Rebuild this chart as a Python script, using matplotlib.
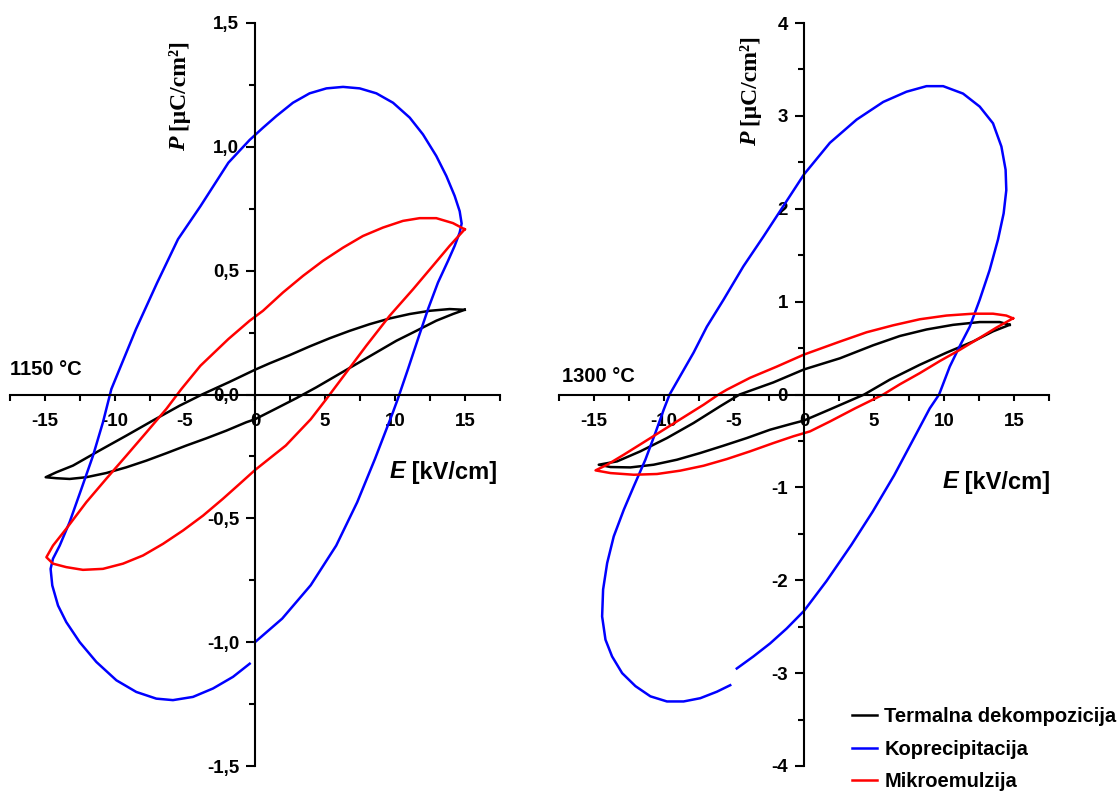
import matplotlib
matplotlib.use('Agg')
import matplotlib.pyplot as plt
from matplotlib.ticker import MultipleLocator, FuncFormatter

plt.rcParams['font.family'] = ['Liberation Sans', 'DejaVu Sans']
plt.rcParams['font.weight'] = 'bold'

# ---- 1150 C ----
E_term_1150 = [14.98, 13.9, 12.48, 11.05, 9.62, 8.19, 6.76, 5.33, 3.9, 2.48, 1.05, 0.0, -1.85, -3.71, -5.38, -7.29,
               -9.19, -11.1, -13.0, -14.19, -14.95,
               -14.19, -13.24, -12.05, -10.62, -9.19, -7.76, -6.33, -4.9, -3.48, -2.05, -0.62, 0.0, 1.5, 2.95,
               4.38, 5.81, 7.24, 8.67, 10.1, 11.52, 12.95, 14.14, 14.98]
P_term_1150 = [0.342, 0.345, 0.338, 0.325, 0.307, 0.284, 0.257, 0.227, 0.194, 0.159, 0.126, 0.10, 0.05, 0.002, -0.045, -0.105,
               -0.166, -0.226, -0.287, -0.314, -0.334,
               -0.338, -0.341, -0.334, -0.317, -0.294, -0.267, -0.237, -0.206, -0.177, -0.146, -0.112, -0.10, -0.057, -0.015,
               0.029, 0.076, 0.123, 0.17, 0.217, 0.257, 0.298, 0.325, 0.342]

E_kopr_1150 = [0.0, 1.94, 3.98, 5.8, 7.3, 8.57, 9.85, 10.2, 10.93, 11.64, 12.36, 13.07, 13.79, 14.26, 14.62, 14.76,
               14.62, 14.26, 13.67, 12.95, 12.0, 11.05, 9.86, 8.67, 7.48, 6.29, 5.1, 3.9, 2.71, 1.52, 0.57, -0.38,
               -1.9, -3.9, -5.5, -7.0, -8.5, -10.26, -10.86, -11.57, -12.4, -13.24, -13.95, -14.43, -14.6, -14.48,
               -14.07, -13.48, -12.52, -11.33, -9.9, -8.48, -7.05, -5.86, -4.43, -3.0, -1.57, -0.38]
P_kopr_1150 = [-1.0, -0.905, -0.77, -0.61, -0.435, -0.26, -0.072, -0.018, 0.103, 0.224, 0.345, 0.452, 0.54, 0.60, 0.654, 0.69,
               0.74, 0.802, 0.882, 0.963, 1.05, 1.118, 1.178, 1.216, 1.236, 1.242, 1.236, 1.216, 1.178, 1.124, 1.077, 1.028,
               0.936, 0.76, 0.627, 0.45, 0.264, 0.022, -0.112, -0.247, -0.381, -0.515, -0.61, -0.663, -0.704, -0.771,
               -0.852, -0.919, -1.0, -1.08, -1.154, -1.201, -1.228, -1.234, -1.221, -1.187, -1.14, -1.087]

E_mikro_1150 = [14.98, 14.14, 12.95, 11.76, 10.57, 9.14, 7.71, 6.29, 4.86, 3.43, 2.0, 0.57, -0.38, -1.9, -3.9, -5.26,
                -6.33, -7.76, -9.19, -10.62, -12.05, -13.48, -14.43, -14.9,
                -14.43, -13.48, -12.29, -10.86, -9.43, -8.0, -6.57, -5.14, -3.71, -2.29, -1.1, 0.0, 2.2, 3.98,
                5.1, 6.52, 7.95, 9.62, 11.29, 12.71, 13.9, 14.98]
P_mikro_1150 = [0.667, 0.692, 0.712, 0.712, 0.701, 0.674, 0.64, 0.593, 0.54, 0.479, 0.412, 0.338, 0.298, 0.224, 0.116, 0.022,
                -0.058, -0.153, -0.247, -0.34, -0.435, -0.542, -0.61, -0.657,
                -0.683, -0.697, -0.708, -0.704, -0.683, -0.65, -0.603, -0.549, -0.489, -0.421, -0.361, -0.305, -0.206, -0.1,
                -0.018, 0.089, 0.197, 0.318, 0.425, 0.52, 0.60, 0.667]

# ---- 1300 C ----
E_term_1300 = [14.69, 13.98, 12.55, 10.65, 8.75, 6.85, 4.94, 2.57, 0.0, -2.19, -4.6, -5.99, -7.89, -9.79, -11.69, -13.35, -14.66,
               -13.82, -12.4, -10.74, -9.07, -7.41, -5.75, -4.09, -2.42, -1.0, 0.0, 1.86, 4.3, 6.13, 8.27, 10.17, 12.07, 13.5, 14.69]
P_term_1300 = [0.75, 0.78, 0.78, 0.75, 0.70, 0.63, 0.53, 0.39, 0.27, 0.13, 0.0, -0.127, -0.307, -0.469, -0.612, -0.72, -0.756,
               -0.781, -0.785, -0.756, -0.702, -0.63, -0.551, -0.469, -0.379, -0.32, -0.28, -0.16, 0.0, 0.16, 0.32, 0.45, 0.57, 0.68, 0.75]

E_kopr_1300 = [-4.8, -3.61, -2.42, -1.24, 0.0, 1.6, 3.38, 4.91, 6.44, 7.96, 8.98, 9.65, 10.41, 11.12, 11.84, 12.55, 13.26,
               13.86, 14.26, 14.45, 14.40, 14.1, 13.5, 12.55, 11.36, 9.94, 8.75, 7.32, 5.66, 3.76, 1.85, 0.0, -1.47,
               -2.90, -4.33, -5.75, -6.94, -7.89, -8.84, -9.6, -10.02, -10.62, -11.33, -12.16, -12.87, -13.59, -14.06,
               -14.35, -14.42, -14.18, -13.71, -12.99, -12.04, -10.97, -9.79, -8.6, -7.41, -6.22, -5.27]
P_kopr_1300 = [-2.95, -2.82, -2.68, -2.52, -2.33, -2.01, -1.62, -1.26, -0.87, -0.44, -0.15, 0.0, 0.30, 0.52, 0.73, 1.02, 1.34,
               1.67, 1.95, 2.20, 2.42, 2.67, 2.92, 3.10, 3.24, 3.32, 3.32, 3.26, 3.15, 2.96, 2.71, 2.37, 2.03,
               1.70, 1.38, 1.02, 0.73, 0.45, 0.20, 0.0, -0.163, -0.415, -0.702, -0.989, -1.24, -1.528, -1.815,
               -2.10, -2.39, -2.64, -2.82, -3.0, -3.14, -3.25, -3.305, -3.305, -3.27, -3.2, -3.13]

E_mikro_1300 = [14.93, 14.45, 13.5, 12.07, 10.17, 8.27, 6.37, 4.47, 2.57, 0.0, -1.95, -3.85, -5.51, -6.1, -7.17, -9.07,
                -10.97, -12.87, -14.06, -14.89,
                -13.82, -12.16, -10.5, -8.84, -7.17, -5.51, -3.85, -2.19, -0.76, 0.43, 1.86, 3.64, 5.66, 6.85, 8.27,
                9.7, 11.12, 12.55, 13.74, 14.93]
P_mikro_1300 = [0.82, 0.85, 0.87, 0.87, 0.85, 0.81, 0.745, 0.67, 0.57, 0.43, 0.30, 0.18, 0.052, 0.0, -0.11, -0.289,
                -0.469, -0.648, -0.756, -0.817,
                -0.846, -0.864, -0.856, -0.82, -0.767, -0.695, -0.612, -0.523, -0.45, -0.397, -0.29, -0.15, 0.0, 0.11, 0.23,
                0.36, 0.48, 0.61, 0.72, 0.82]

labels = ['Termalna dekompozicija', 'Koprecipitacija', 'Mikroemulzija']
colors = ['black', '#0000ff', '#ff0000']

W, H = 1118, 796
fig = plt.figure(figsize=(W / 100, H / 100), dpi=100)


def comma(v, pos):
    return ('%.1f' % v).replace('.', ',').replace('\u2212', '-')


def setup(ax, ylim, ymaj, ymin, fmt):
    ax.set_xlim(-17.5, 17.5)
    ax.set_ylim(*ylim)
    for s in ['top', 'right']:
        ax.spines[s].set_visible(False)
    ax.spines['left'].set_position(('data', 0))
    ax.spines['bottom'].set_position(('data', 0))
    for s in ['left', 'bottom']:
        ax.spines[s].set_linewidth(1.5)
    ax.xaxis.set_major_locator(MultipleLocator(5))
    ax.xaxis.set_minor_locator(MultipleLocator(2.5))
    ax.yaxis.set_major_locator(MultipleLocator(ymaj))
    ax.yaxis.set_minor_locator(MultipleLocator(ymin))
    ax.xaxis.set_major_formatter(FuncFormatter(lambda v, p: '%d' % round(v)))
    ax.yaxis.set_major_formatter(FuncFormatter(fmt))
    ax.tick_params(axis='x', which='both', direction='out', length=4, width=1.5, labelsize=13.5, pad=9)
    ax.tick_params(axis='y', which='major', direction='out', length=6.5, width=1.5, labelsize=13.5, pad=5)
    ax.tick_params(axis='y', which='minor', direction='out', length=4, width=1.5)
    ax.patch.set_visible(False)


ax1 = fig.add_axes([10 / W, 1 - 766 / H, 490 / W, 743 / H])
ax2 = fig.add_axes([559 / W, 1 - 766 / H, 490 / W, 743 / H])
setup(ax1, (-1.5, 1.5), 0.5, 0.25, comma)
setup(ax2, (-4, 4), 1, 0.5, lambda v, p: '%d' % round(v))

lw = 1.8
ax1.plot(E_term_1150, P_term_1150, color=colors[0], lw=lw)
ax1.plot(E_kopr_1150, P_kopr_1150, color=colors[1], lw=lw)
ax1.plot(E_mikro_1150, P_mikro_1150, color=colors[2], lw=lw)
h1, = ax2.plot(E_term_1300, P_term_1300, color=colors[0], lw=lw)
h2, = ax2.plot(E_kopr_1300, P_kopr_1300, color=colors[1], lw=lw)
h3, = ax2.plot(E_mikro_1300, P_mikro_1300, color=colors[2], lw=lw)


def ft(x, y):
    return x / W, 1 - y / H


# E labels
for xs, y in [(405, 472), (958, 482)]:
    fig.text(*ft(xs, y), 'E', ha='right', va='center', fontsize=17, style='italic', fontweight='bold')
    fig.text(*ft(xs, y), ' [kV/cm]', ha='left', va='center', fontsize=17, fontweight='bold')

# P labels
for x, ys in [(180, 137), (751, 132)]:
    fig.text(*ft(x, ys), 'P', ha='center', va='top', rotation=90, fontsize=17,
             family='Liberation Serif', style='italic', fontweight='bold')
    fig.text(*ft(x, ys), ' [\u03bcC/cm\u00b2]', ha='center', va='bottom', rotation=90, fontsize=17,
             family='Liberation Serif', fontweight='bold')

fig.text(*ft(10, 370), '1150 \u00b0C', ha='left', va='center', fontsize=14.5, fontweight='bold')
fig.text(*ft(562, 377), '1300 \u00b0C', ha='left', va='center', fontsize=14.5, fontweight='bold')

fig.legend([h1, h2, h3], labels, loc='upper left', bbox_to_anchor=ft(852, 707), frameon=False,
           prop={'size': 14.5, 'weight': 'bold'}, handlelength=1.25, handletextpad=0.35,
           labelspacing=0.68, borderpad=0, borderaxespad=0)

fig.savefig('out.png', dpi=100)
